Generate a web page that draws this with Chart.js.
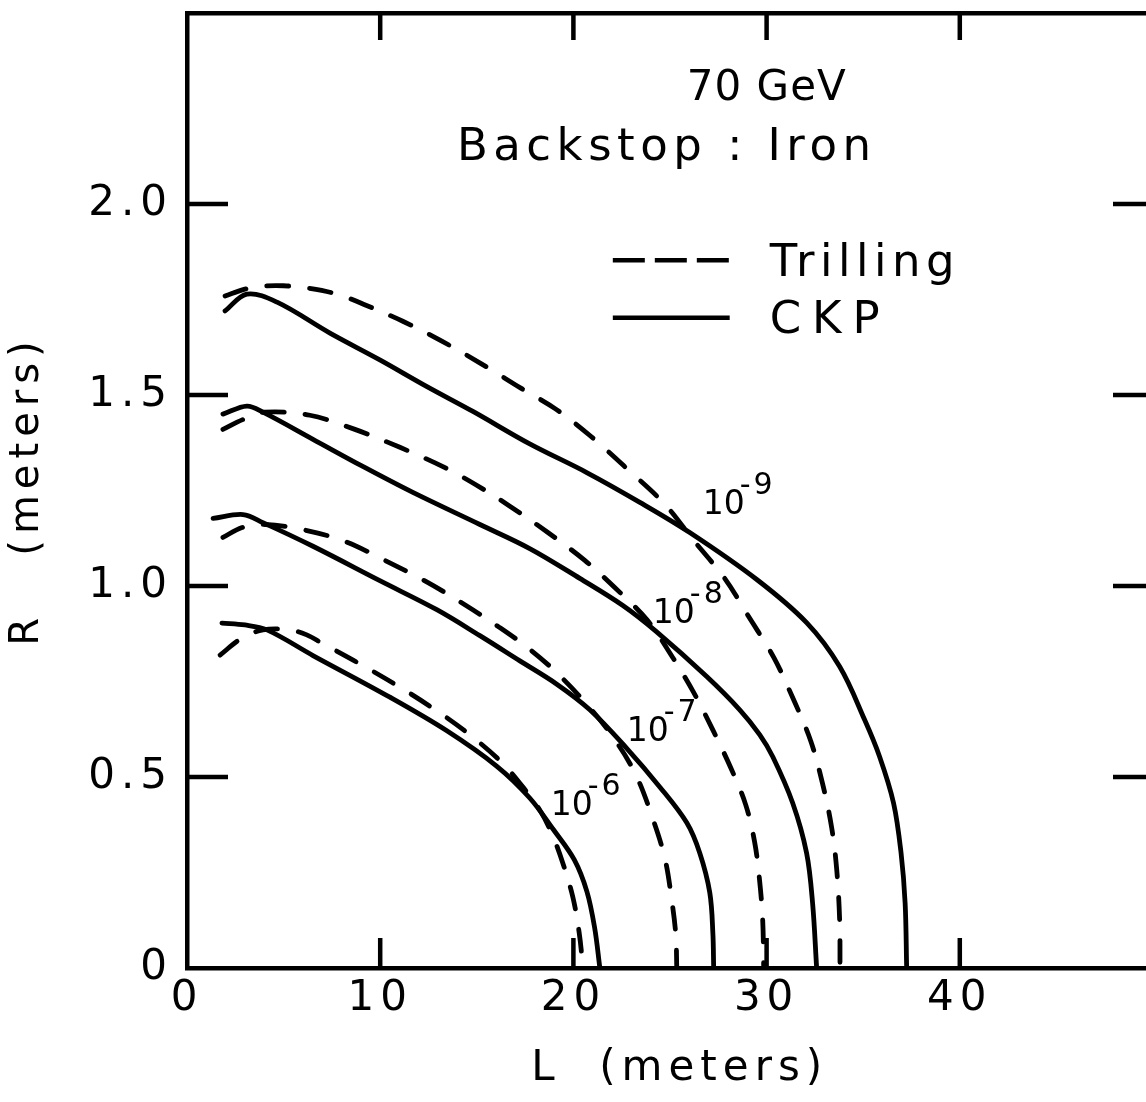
<!DOCTYPE html>
<html>
<head>
<meta charset="utf-8">
<script src="https://cdn.jsdelivr.net/npm/chart.js@4.4.0/dist/chart.umd.min.js"></script>
<style>
  html, body { margin: 0; padding: 0; background: #fff; overflow: hidden; }
</style>
</head>
<body>
<canvas id="chart" width="1160" height="1102"></canvas>
<script>
const FONT = '"DejaVu Sans", sans-serif';

// axis ticks
const xTicks = [0, 10, 20, 30, 40];
const yTicks = [0, 0.5, 1.0, 1.5, 2.0];
const xInnerTicks = [10, 20, 30, 40];
const yInnerTicks = [0.5, 1.0, 1.5, 2.0];

// CKP curves, [L, R] in meters
const ckp9 = [[1.97,1.72],[3.1,1.764],[4.66,1.743],[7.4,1.662],[9.98,1.592],[12.42,1.522],[14.8,1.457],[17.74,1.372],[20.69,1.297],[23.44,1.219],[26.02,1.14],[29.49,1.017],[32.07,0.904],[33.78,0.789],[35.08,0.649],[35.85,0.553],[36.57,0.432],[36.96,0.301],[37.17,0.17],[37.25,0]];
const ckp8 = [[1.86,1.45],[3.1,1.471],[3.93,1.455],[6.52,1.384],[9.1,1.313],[11.69,1.245],[15.16,1.161],[17.74,1.098],[20.33,1.02],[22.56,0.949],[24.31,0.88],[26.9,0.763],[28.61,0.676],[29.64,0.611],[30.32,0.553],[31.35,0.432],[32.07,0.301],[32.38,0.17],[32.59,0]];
const ckp7 = [[1.35,1.177],[2.9,1.187],[3.93,1.166],[6.52,1.104],[9.98,1.014],[12.93,0.938],[15.16,0.87],[17.23,0.804],[19.14,0.743],[20.85,0.676],[22.76,0.575],[24.47,0.474],[25.87,0.38],[26.54,0.301],[27.06,0.197],[27.22,0.09],[27.26,0]];
const ckp6 = [[1.81,0.903],[3.0,0.898],[4.14,0.885],[6.52,0.818],[10.5,0.709],[13.45,0.621],[16.04,0.528],[17.74,0.445],[19.0,0.36],[20.05,0.283],[20.7,0.2],[21.1,0.105],[21.37,0]];

// Trilling curves, [L, R] in meters
const trill9 = [[1.97,1.759],[3.0,1.777],[3.93,1.785],[5.0,1.786],[6.21,1.78],[7.76,1.764],[9.26,1.735],[11.17,1.693],[13.19,1.641],[15.26,1.581],[17.28,1.518],[19.09,1.463],[20.9,1.392],[22.97,1.298],[24.73,1.214],[26.18,1.122],[27.83,1.02],[29.07,0.92],[30.37,0.813],[31.4,0.702],[32.28,0.595],[32.9,0.482],[33.37,0.367],[33.63,0.257],[33.78,0.126],[33.8,0]];
const trill8 = [[1.86,1.41],[2.9,1.436],[3.98,1.455],[6.36,1.447],[8.69,1.41],[11.02,1.363],[13.3,1.311],[14.95,1.265],[16.71,1.209],[18.68,1.14],[20.59,1.067],[22.14,0.996],[23.8,0.912],[25.14,0.813],[26.23,0.721],[27.21,0.624],[28.19,0.519],[28.92,0.427],[29.38,0.33],[29.64,0.228],[29.8,0.123],[29.85,0]];
const trill7 = [[1.86,1.127],[2.85,1.153],[4.04,1.161],[5.95,1.148],[8.17,1.117],[10.24,1.067],[12.36,1.012],[14.38,0.951],[16.19,0.891],[17.8,0.832],[19.24,0.768],[20.8,0.684],[22.14,0.598],[23.23,0.506],[24.06,0.398],[24.73,0.288],[25.09,0.178],[25.3,0.087],[25.35,0]];
const trill6 = [[1.71,0.819],[2.8,0.862],[3.93,0.885],[5.33,0.885],[6.2,0.872],[7.0,0.85],[8.6,0.806],[10.66,0.746],[12.7,0.681],[14.6,0.612],[16.35,0.535],[17.6,0.46],[18.3,0.41],[18.9,0.35],[19.45,0.275],[19.97,0.186],[20.3,0.092],[20.5,0]];

// curve labels: exponent and anchor (L, R) of the "10"
const curveExps = ['-9', '-8', '-7', '-6'];
const curveLabelAt = [[26.69, 1.188], [24.11, 0.903], [22.76, 0.594], [18.83, 0.401]];

const toXY = pts => pts.map(p => ({ x: p[0], y: p[1] }));

const datasets = [];
[ckp9, ckp8, ckp7, ckp6].forEach((c, i) => {
    datasets.push({ label: 'CKP 1e' + curveExps[i], data: toXY(c) });
});
[trill9, trill8, trill7, trill6].forEach((c, i) => {
    datasets.push({ label: 'Trilling 1e' + curveExps[i], data: toXY(c), borderDash: [22, 21] });
});

// canvas text spacing, the original lettering is wide
const spacing = {
    id: 'spacing',
    beforeDraw(chart) { chart.ctx.letterSpacing = '6px'; }
};

// inward tick marks on all four sides
const innerTicks = {
    id: 'innerTicks',
    afterDatasetsDraw(chart) {
        const { ctx, chartArea: a, scales: { x, y } } = chart;
        ctx.save();
        ctx.strokeStyle = '#000';
        ctx.lineWidth = 4.5;
        ctx.beginPath();
        xInnerTicks.forEach(v => {
            const px = x.getPixelForValue(v);
            ctx.moveTo(px, a.bottom); ctx.lineTo(px, a.bottom - 30);
            ctx.moveTo(px, a.top); ctx.lineTo(px, a.top + 27);
        });
        yInnerTicks.forEach(v => {
            const py = y.getPixelForValue(v);
            ctx.moveTo(a.left, py); ctx.lineTo(a.left + 41, py);
            ctx.moveTo(a.right, py); ctx.lineTo(a.right - 40, py);
        });
        ctx.stroke();
        ctx.restore();
    }
};

// title block, legend and curve labels
const notes = {
    id: 'notes',
    afterDraw(chart) {
        const { ctx, scales: { x, y } } = chart;
        const X = v => x.getPixelForValue(v);
        const Y = v => y.getPixelForValue(v);
        ctx.save();
        ctx.fillStyle = '#000';
        ctx.strokeStyle = '#000';
        ctx.textAlign = 'left';
        ctx.textBaseline = 'alphabetic';

        ctx.font = '42px ' + FONT;
        ctx.letterSpacing = '1px';
        ctx.fillText('70 GeV', X(25.87), Y(2.272));

        ctx.font = '45px ' + FONT;
        ctx.letterSpacing = '5.5px';
        ctx.fillText('Backstop : Iron', X(13.97), Y(2.115));
        ctx.fillText('Trilling', X(30.16), Y(1.811));
        ctx.letterSpacing = '11px';
        ctx.fillText('CKP', X(30.16), Y(1.662));

        // legend samples
        ctx.lineWidth = 4.5;
        ctx.lineCap = 'butt';
        ctx.setLineDash([32, 10]);
        ctx.beginPath();
        ctx.moveTo(X(22.04), Y(1.853)); ctx.lineTo(X(28.09), Y(1.853));
        ctx.stroke();
        ctx.setLineDash([]);
        ctx.beginPath();
        ctx.moveTo(X(22.04), Y(1.702)); ctx.lineTo(X(28.09), Y(1.702));
        ctx.stroke();

        // 10^-n labels
        curveExps.forEach((e, i) => {
            const px = X(curveLabelAt[i][0]);
            const py = Y(curveLabelAt[i][1]);
            ctx.letterSpacing = '0px';
            ctx.font = '33px ' + FONT;
            ctx.fillText('10', px, py);
            ctx.font = '30px ' + FONT;
            ctx.letterSpacing = '3px';
            ctx.fillText(e, px + 37, py - 20);
        });
        ctx.restore();
    }
};

// keep the plot frame where the original has it
const noPad = s => { s.paddingTop = 0; s.paddingBottom = 0; s.paddingLeft = 0; s.paddingRight = 0; };

new Chart(document.getElementById('chart').getContext('2d'), {
    type: 'line',
    data: { datasets },
    options: {
        responsive: false,
        animation: false,
        devicePixelRatio: 1,
        layout: { padding: { left: 0, top: 13, right: 7, bottom: 0 } },
        plugins: {
            legend: { display: false },
            tooltip: { enabled: false }
        },
        elements: {
            point: { radius: 0 },
            line: {
                tension: 0.35,
                borderWidth: 4.8,
                borderColor: '#000',
                borderCapStyle: 'round',
                borderJoinStyle: 'round',
                fill: false
            }
        },
        scales: {
            x: {
                type: 'linear',
                position: 'bottom',
                min: 0,
                max: 50,
                afterBuildTicks: s => { s.ticks = xTicks.map(v => ({ value: v })); },
                afterFit: s => { s.height = 134; noPad(s); },
                grid: { display: true, drawOnChartArea: false, drawTicks: false },
                border: { display: true, color: '#000', width: 4.5 },
                ticks: {
                    color: '#000',
                    padding: 6,
                    maxRotation: 0,
                    autoSkip: false,
                    font: { family: FONT, size: 42 },
                    callback: v => String(v)
                },
                title: {
                    display: true,
                    text: ' L  (meters)',
                    color: '#000',
                    font: { family: FONT, size: 42 },
                    padding: { top: 0, bottom: 8 }
                }
            },
            x2: {
                type: 'linear',
                position: 'top',
                min: 0,
                max: 50,
                ticks: { display: false },
                grid: { display: true, drawOnChartArea: false, drawTicks: false },
                border: { display: true, color: '#000', width: 4.5 },
                afterFit: s => { s.height = 0; noPad(s); }
            },
            y: {
                type: 'linear',
                min: 0,
                max: 2.5,
                afterBuildTicks: s => { s.ticks = yTicks.map(v => ({ value: v })); },
                afterFit: s => { s.width = 187; noPad(s); },
                grid: { display: true, drawOnChartArea: false, drawTicks: false },
                border: { display: true, color: '#000', width: 4.5 },
                ticks: {
                    color: '#000',
                    padding: 14,
                    font: { family: FONT, size: 42 },
                    callback: v => v === 0 ? '0' : v.toFixed(1)
                },
                title: {
                    display: true,
                    text: 'R   (meters)',
                    color: '#000',
                    font: { family: FONT, size: 40 },
                    padding: { top: 4, bottom: 0 }
                }
            }
        }
    },
    plugins: [spacing, innerTicks, notes]
});
</script>
</body>
</html>
